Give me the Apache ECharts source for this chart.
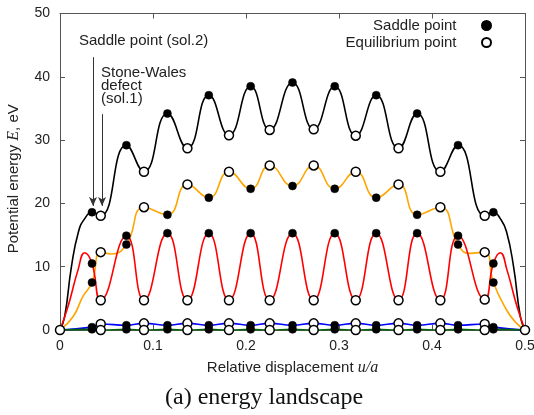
<!DOCTYPE html>
<html>
<head>
<meta charset="utf-8">
<script src="https://cdn.jsdelivr.net/npm/echarts@6/dist/echarts.min.js"></script>
<style>
  html, body { margin: 0; padding: 0; background: #fff; }
  #chart { width: 534px; height: 415px; }
</style>
</head>
<body>
<div id="chart"></div>
<script>
// points: [u/a, E in eV, kind]  kind 's' = saddle point, 'e' = equilibrium point, '' = curve only
const blackCurve = [
  [0, 0, ''], [0.005, 2.1, ''], [0.0123, 10, ''], [0.02, 15.6, ''], [0.0266, 17.6, ''],
  [0.0344, 18.6, 's'], [0.0438, 18.05, 'e'], [0.0714, 29.2, 's'], [0.0903, 25.0, 'e'],
  [0.1155, 34.2, 's'], [0.137, 28.7, 'e'], [0.160, 37.1, 's'], [0.1817, 30.75, 'e'],
  [0.205, 38.5, 's'], [0.2255, 31.6, 'e'], [0.250, 39.1, 's'], [0.2728, 31.7, 'e'],
  [0.2954, 38.5, 's'], [0.318, 30.7, 'e'], [0.340, 37.1, 's'], [0.364, 28.7, 'e'],
  [0.384, 34.2, 's'], [0.409, 25.0, 'e'], [0.428, 29.2, 's'], [0.4567, 18.05, 'e'],
  [0.466, 18.6, 's'], [0.4734, 17.6, ''], [0.480, 15.6, ''], [0.4877, 10, ''],
  [0.495, 2.1, ''], [0.5, 0, '']
];
const orangeCurve = [
  [0, 0, ''], [0.014, 2.1, ''], [0.0247, 5.3, ''], [0.0344, 7.5, 's'], [0.0438, 12.3, 'e'],
  [0.055, 12.0, ''], [0.0714, 13.5, 's'], [0.0903, 19.4, 'e'], [0.1155, 18.2, 's'],
  [0.137, 23.0, 'e'], [0.160, 20.9, 's'], [0.1817, 25.0, 'e'], [0.205, 22.3, 's'],
  [0.2255, 26.0, 'e'], [0.250, 22.75, 's'], [0.2728, 26.0, 'e'], [0.2954, 22.3, 's'],
  [0.318, 25.0, 'e'], [0.340, 20.9, 's'], [0.364, 23.0, 'e'], [0.384, 18.2, 's'],
  [0.409, 19.4, 'e'], [0.428, 13.5, 's'], [0.4405, 12.1, ''], [0.4567, 12.3, 'e'],
  [0.466, 7.5, 's'], [0.480, 3.2, ''], [0.490, 1.2, ''], [0.5, 0, '']
];
const redCurve = [
  [0, 0, ''], [0.0086, 3.7, ''], [0.0194, 9.5, ''], [0.0266, 12.2, ''], [0.0344, 10.5, 's'],
  [0.0438, 4.7, 'e'], [0.0714, 14.9, 's'], [0.0903, 4.7, 'e'], [0.1155, 15.3, 's'],
  [0.137, 4.7, 'e'], [0.160, 15.3, 's'], [0.1817, 4.7, 'e'], [0.205, 15.3, 's'],
  [0.2255, 4.7, 'e'], [0.250, 15.3, 's'], [0.2728, 4.7, 'e'], [0.2954, 15.3, 's'],
  [0.318, 4.7, 'e'], [0.340, 15.3, 's'], [0.364, 4.7, 'e'], [0.384, 15.3, 's'],
  [0.409, 4.7, 'e'], [0.428, 14.9, 's'], [0.4567, 4.8, 'e'], [0.466, 10.5, 's'],
  [0.4734, 12.2, ''], [0.4806, 9.5, ''], [0.4914, 3.7, ''], [0.5, 0, '']
];
const blueCurve = [
  [0, 0, ''], [0.0344, 0.45, 's'], [0.0438, 0.95, 'e'], [0.0714, 0.75, 's'], [0.0903, 1.05, 'e'],
  [0.1155, 0.75, 's'], [0.137, 1.05, 'e'], [0.160, 0.75, 's'], [0.1817, 1.05, 'e'],
  [0.205, 0.75, 's'], [0.2255, 1.05, 'e'], [0.250, 0.75, 's'], [0.2728, 1.05, 'e'],
  [0.2954, 0.75, 's'], [0.318, 1.05, 'e'], [0.340, 0.75, 's'], [0.364, 1.05, 'e'],
  [0.384, 0.75, 's'], [0.409, 1.05, 'e'], [0.428, 0.75, 's'], [0.4567, 0.95, 'e'],
  [0.466, 0.45, 's'], [0.5, 0, '']
];
const greenCurve = [
  [0, 0, 'e'], [0.0344, 0.1, 's'], [0.0438, 0, 'e'], [0.0714, 0.1, 's'], [0.0903, 0, 'e'],
  [0.1155, 0.1, 's'], [0.137, 0, 'e'], [0.160, 0.1, 's'], [0.1817, 0, 'e'],
  [0.205, 0.1, 's'], [0.2255, 0, 'e'], [0.250, 0.1, 's'], [0.2728, 0, 'e'],
  [0.2954, 0.1, 's'], [0.318, 0, 'e'], [0.340, 0.1, 's'], [0.364, 0, 'e'],
  [0.384, 0.1, 's'], [0.409, 0, 'e'], [0.428, 0.1, 's'], [0.4567, 0, 'e'],
  [0.466, 0.1, 's'], [0.5, 0, 'e']
];
const curveColors = ['#000000', '#ffa500', '#ff0000', '#0000ff', '#006400'];
// arrows: [x, yFrom, yTo]
const arrows = [[0.0355, 43.1, 19.6], [0.0452, 34.1, 19.6]];

const curves = [blackCurve, orangeCurve, redCurve, blueCurve, greenCurve];
const font = 'Liberation Sans, Arial, sans-serif';
const serif = 'Liberation Serif, Times New Roman, serif';

function pick(kind) {
  const out = [];
  curves.forEach(c => c.forEach(p => { if (p[2] === kind) out.push([p[0], p[1]]); }));
  return out;
}

const lineSeries = curves.map((c, i) => ({
  type: 'line',
  data: c.map(p => [p[0], p[1]]),
  smooth: 0.5,
  showSymbol: false,
  symbol: 'none',
  lineStyle: { color: curveColors[i], width: 1.6 },
  z: 2,
  silent: true
}));
lineSeries[0].markLine = {
  silent: true,
  symbol: ['none', 'arrow'],
  symbolSize: [6, 9],
  label: { show: false },
  lineStyle: { color: '#333', width: 1, type: 'solid' },
  emphasis: { disabled: true },
  data: arrows.map(a => [{ coord: [a[0], a[1]] }, { coord: [a[0], a[2]] }])
};

const frameAxis = {
  axisLine: { show: true, onZero: false, lineStyle: { color: '#555', width: 1 } },
  axisTick: { show: true, inside: true, length: 5, lineStyle: { color: '#555' } },
  splitLine: { show: false }
};

const chart = echarts.init(document.getElementById('chart'));
chart.setOption({
  animation: false,
  textStyle: { fontFamily: font },
  grid: { left: 60, right: 9, top: 13.5, bottom: 85, outerBoundsMode: 'none', containLabel: false },
  legend: {
    orient: 'vertical',
    align: 'right',
    right: 42,
    top: 18,
    padding: 0,
    itemWidth: 50,
    itemHeight: 9,
    itemGap: 2,
    textStyle: { fontSize: 15, lineHeight: 14, color: '#222', fontFamily: font },
    data: [{ name: 'Saddle point', icon: 'circle' }, { name: 'Equilibrium point', icon: 'circle' }]
  },
  xAxis: [Object.assign({
    type: 'value', min: 0, max: 0.5, interval: 0.1, position: 'bottom',
    name: '{a|Relative displacement }{i|u/a}',
    nameLocation: 'middle', nameGap: 30,
    nameTextStyle: { rich: {
      a: { fontSize: 15, color: '#222', fontFamily: font },
      i: { fontSize: 16, color: '#222', fontFamily: serif, fontStyle: 'italic' }
    } },
    axisLabel: { fontSize: 14, color: '#222', margin: 9 }
  }, frameAxis), Object.assign({
    type: 'value', min: 0, max: 0.5, interval: 0.1, position: 'top',
    axisLabel: { show: false }
  }, frameAxis)],
  yAxis: [Object.assign({
    type: 'value', min: 0, max: 50, interval: 10, position: 'left',
    name: '{a|Potential energy }{i|E}{a|, eV}',
    nameLocation: 'middle', nameGap: 38,
    nameTextStyle: { padding: [0, 14, 0, 0], rich: {
      a: { fontSize: 15, color: '#222', fontFamily: font },
      i: { fontSize: 16, color: '#222', fontFamily: serif, fontStyle: 'italic' }
    } },
    axisLabel: { fontSize: 14, color: '#222', margin: 10 }
  }, frameAxis), Object.assign({
    type: 'value', min: 0, max: 50, interval: 10, position: 'right',
    axisLabel: { show: false }
  }, frameAxis)],
  series: lineSeries.concat([
    {
      name: 'Saddle point',
      type: 'scatter',
      data: pick('s'),
      symbol: 'circle',
      symbolSize: 8,
      itemStyle: { color: '#000', borderColor: '#000', borderWidth: 0.5, opacity: 1 },
      z: 5,
      silent: true
    },
    {
      name: 'Equilibrium point',
      type: 'scatter',
      data: pick('e'),
      symbol: 'circle',
      symbolSize: 9,
      itemStyle: { color: '#fff', borderColor: '#000', borderWidth: 1.5, opacity: 1 },
      z: 6,
      silent: true
    }
  ]),
  graphic: [
    {
      type: 'text', left: 79, top: 33,
      style: { text: 'Saddle point (sol.2)', font: '15px ' + font, fill: '#222' }
    },
    {
      type: 'text', left: 101, top: 65,
      style: { text: 'Stone-Wales\ndefect\n(sol.1)', font: '15px ' + font, fill: '#222', lineHeight: 13 }
    },
    {
      type: 'text', left: 165, top: 386,
      style: { text: '(a) energy landscape', font: '24px ' + serif, fill: '#111' }
    }
  ]
});
</script>
</body>
</html>
